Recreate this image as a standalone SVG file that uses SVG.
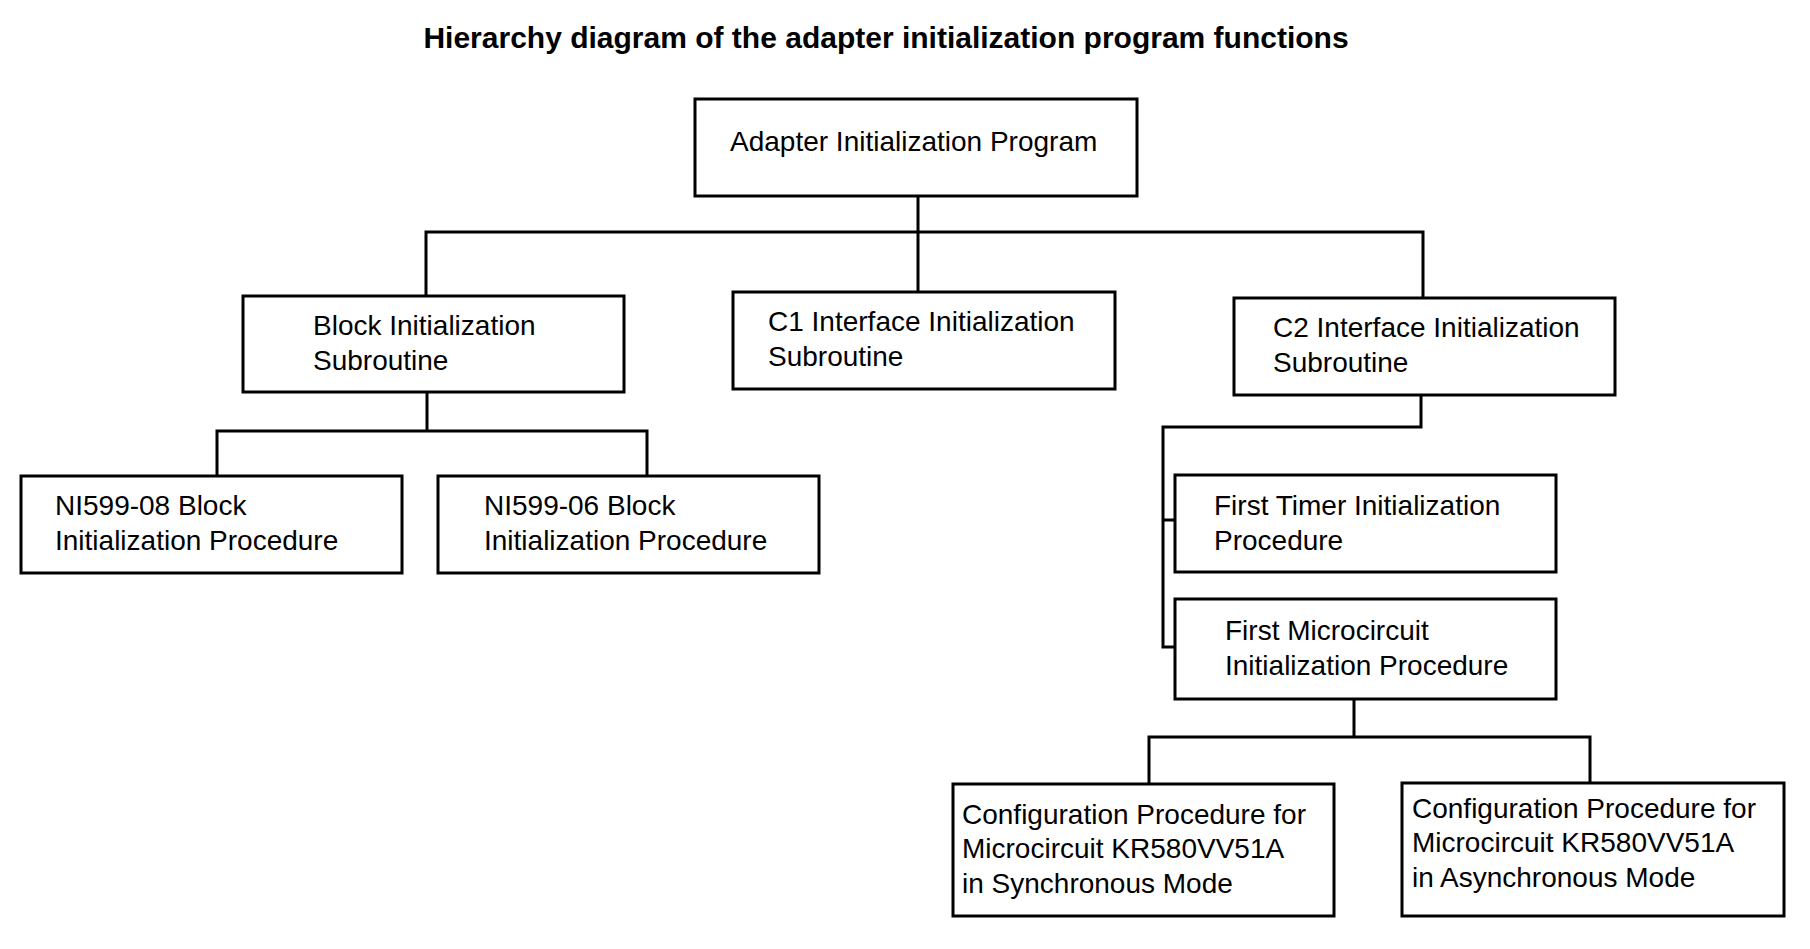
<svg xmlns="http://www.w3.org/2000/svg" width="1810" height="949" viewBox="0 0 1810 949">
<style>
.b{fill:#fff;stroke:#000;stroke-width:3}
.t{font-family:"Liberation Sans",Arial,sans-serif;font-size:28px;fill:#000}
.c{fill:none;stroke:#000;stroke-width:3}
</style>
<rect width="1810" height="949" fill="#fff"/>
<text x="886" y="48" text-anchor="middle" style="font-family:'Liberation Sans',Arial,sans-serif;font-size:30px;font-weight:bold">Hierarchy diagram of the adapter initialization program functions</text>
<g id="connectors" class="c">
<path d="M918 196V232M426 296V232H1423V298M918 232V292"/>
<path d="M427 392V431M217 476V431H647V476"/>
<path d="M1421 395V427H1163V647H1175M1163 520H1175"/>
<path d="M1354 699V737M1149 784V737H1590V784"/>
</g>
<g id="root"><rect class="b" x="695" y="99" width="442" height="97"/><text class="t" x="730" y="151">Adapter Initialization Program</text></g>
<g id="block"><rect class="b" x="243" y="296" width="381" height="96"/><text class="t" x="313" y="335">Block Initialization</text><text class="t" x="313" y="370">Subroutine</text></g>
<g id="c1"><rect class="b" x="733" y="292" width="382" height="97"/><text class="t" x="768" y="331">C1 Interface Initialization</text><text class="t" x="768" y="366">Subroutine</text></g>
<g id="c2"><rect class="b" x="1234" y="298" width="381" height="97"/><text class="t" x="1273" y="337">C2 Interface Initialization</text><text class="t" x="1273" y="372">Subroutine</text></g>
<g id="ni08"><rect class="b" x="21" y="476" width="381" height="97"/><text class="t" x="55" y="515">NI599-08 Block</text><text class="t" x="55" y="550">Initialization Procedure</text></g>
<g id="ni06"><rect class="b" x="438" y="476" width="381" height="97"/><text class="t" x="484" y="515">NI599-06 Block</text><text class="t" x="484" y="550">Initialization Procedure</text></g>
<g id="timer"><rect class="b" x="1175" y="475" width="381" height="97"/><text class="t" x="1214" y="515">First Timer Initialization</text><text class="t" x="1214" y="550">Procedure</text></g>
<g id="micro"><rect class="b" x="1175" y="599" width="381" height="100"/><text class="t" x="1225" y="640">First Microcircuit</text><text class="t" x="1225" y="675">Initialization Procedure</text></g>
<g id="sync"><rect class="b" x="953" y="784" width="381" height="132"/><text class="t" x="962" y="824">Configuration Procedure for</text><text class="t" x="962" y="858">Microcircuit KR580VV51A</text><text class="t" x="962" y="893">in Synchronous Mode</text></g>
<g id="async"><rect class="b" x="1402" y="783" width="382" height="133"/><text class="t" x="1412" y="818">Configuration Procedure for</text><text class="t" x="1412" y="852">Microcircuit KR580VV51A</text><text class="t" x="1412" y="887">in Asynchronous Mode</text></g>
</svg>
